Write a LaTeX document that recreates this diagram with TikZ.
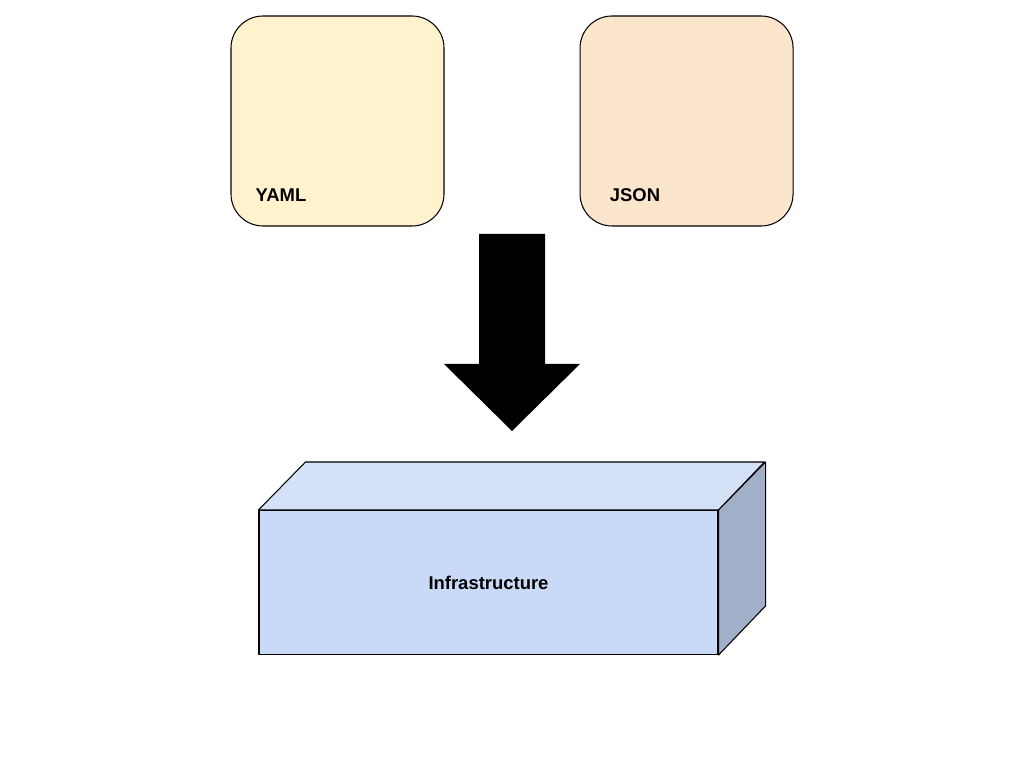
\documentclass[tikz,border=0pt]{standalone}
\usepackage{fontspec}
\setmainfont{Liberation Sans}
\usepackage{xcolor}
\usetikzlibrary{positioning}

\definecolor{yamlfill}{HTML}{FFF2CC}
\definecolor{jsonfill}{HTML}{FCE5CD}
\definecolor{frontfill}{HTML}{C9DAF8}
\definecolor{topfill}{HTML}{D4E1F7}
\definecolor{sidefill}{HTML}{A1AFC9}

\begin{document}
\begin{tikzpicture}[
  every node/.style={font=\fontsize{10.5}{12}\selectfont\bfseries},
  filebox/.style={draw, rectangle, rounded corners=0.64cm, minimum width=4.26cm, minimum height=4.2cm, line width=0.6pt},
  face/.style={draw, line width=0.6pt, line join=round},
]
\useasboundingbox (0,0) rectangle (20.48,-15.36);

%% Source files
\node (yaml) [filebox, fill=yamlfill] at (6.75,-2.42) {};
\node (json) [filebox, fill=jsonfill, right=2.70cm of yaml] {};
\node (yamltxt) at (5.62,-3.9)  {YAML};
\node (jsontxt) at (12.7,-3.9)  {JSON};

%% Big arrow
\coordinate (tip) at (10.24,-8.62);
\fill[black] (9.58,-4.68) -- (10.9,-4.68) -- (10.9,-7.28) -- (11.6,-7.28)
  -- (tip) -- (8.88,-7.28) -- (9.58,-7.28) -- cycle;

%% Infrastructure block
\node (infra) [face, rectangle, fill=frontfill, minimum width=9.18cm, minimum height=2.88cm,
  below=1.58cm of tip, xshift=-0.47cm] {Infrastructure};
\draw[face, fill=topfill] (infra.north west) -- ++(0.94,0.96) -- ++(9.18,0)
  -- (infra.north east) -- cycle;
\draw[face, fill=sidefill] (infra.north east) -- ++(0.94,0.96) -- ++(0,-2.88)
  -- (infra.south east) -- cycle;

\end{tikzpicture}
\end{document}
